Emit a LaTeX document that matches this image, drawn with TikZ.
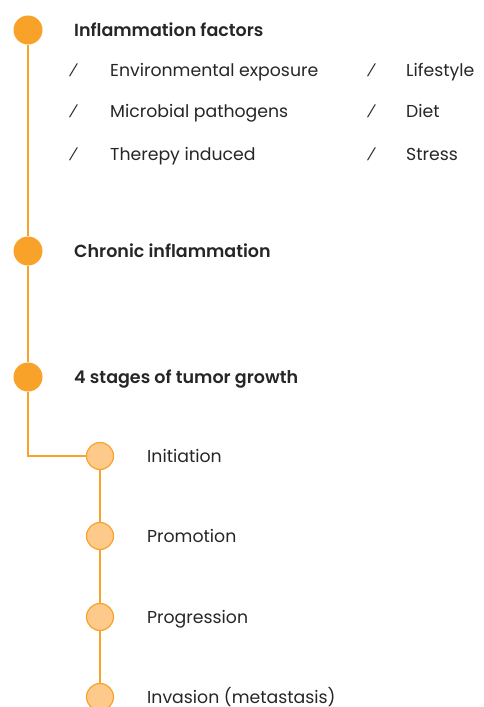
\documentclass[tikz,border=0pt]{standalone}
\usepackage{fontspec}
\setmainfont{Poppins}[BoldFont={Poppins SemiBold}]
\newfontfamily\slashfont{DejaVu Sans}
\definecolor{tangerine}{HTML}{F8A22A}
\definecolor{peach}{HTML}{FDCA8B}
\definecolor{ink}{HTML}{262626}

\begin{document}
\begin{tikzpicture}[x=1pt,y=-1pt,
  big/.style={circle, fill=tangerine, minimum size=29pt, inner sep=0pt},
  small/.style={circle, fill=peach, draw=tangerine, line width=1.2pt, minimum size=27pt, inner sep=0pt},
  head/.style={anchor=base west, inner sep=0pt, text=ink, font=\bfseries\fontsize{17.5}{20}\selectfont},
  item/.style={anchor=base west, inner sep=0pt, text=ink, font=\fontsize{17.3}{20}\selectfont},
  slashmark/.style={anchor=base west, inner sep=0pt, text=ink, font=\slashfont\fontsize{17}{20}\selectfont},
  link/.style={tangerine, line width=1.3pt}]
  \useasboundingbox (0,0) rectangle (483,707);
  \clip (0,0) rectangle (483,707);

  % main timeline
  \node[big] (A) at (28,30) {};
  \node[big] (B) at (28,251) {};
  \node[big] (C) at (28,377) {};
  \coordinate (corner) at (28,456);
  \node[small] (D) at (100,456) {};
  \node[small] (E) at (100,536) {};
  \node[small] (F) at (100,617) {};
  \node[small] (G) at (100,697) {};

  \draw[link] (A) -- (B);
  \draw[link] (B) -- (C);
  \draw[link] (C) -- (corner) -- (D);
  \draw[link] (D) -- (E);
  \draw[link] (E) -- (F);
  \draw[link] (F) -- (G);

  % headings
  \node[head] (hA) at (74,36) {Inflammation factors};
  \node[head] (hB) at (74,257) {Chronic inflammation};
  \node[head] (hC) at (74,383) {4 stages of tumor growth};

  % factors
  \node[slashmark] (s1) at (72,76) {⁄};
  \node[slashmark] (s2) at (72,117) {⁄};
  \node[slashmark] (s3) at (72,160) {⁄};
  \node[slashmark] (s4) at (370,76) {⁄};
  \node[slashmark] (s5) at (370,117) {⁄};
  \node[slashmark] (s6) at (370,160) {⁄};
  \node[item] (f1) at (110,76) {Environmental exposure};
  \node[item] (f2) at (110,117) {Microbial pathogens};
  \node[item] (f3) at (110,160) {Therepy induced};
  \node[item] (f4) at (406,76) {Lifestyle};
  \node[item] (f5) at (406,117) {Diet};
  \node[item] (f6) at (406,160) {Stress};

  % stages
  \node[item] (tD) at (147,462) {Initiation};
  \node[item] (tE) at (147,542) {Promotion};
  \node[item] (tF) at (147,623) {Progression};
  \node[item] (tG) at (147,703) {Invasion (metastasis)};

\end{tikzpicture}
\end{document}
